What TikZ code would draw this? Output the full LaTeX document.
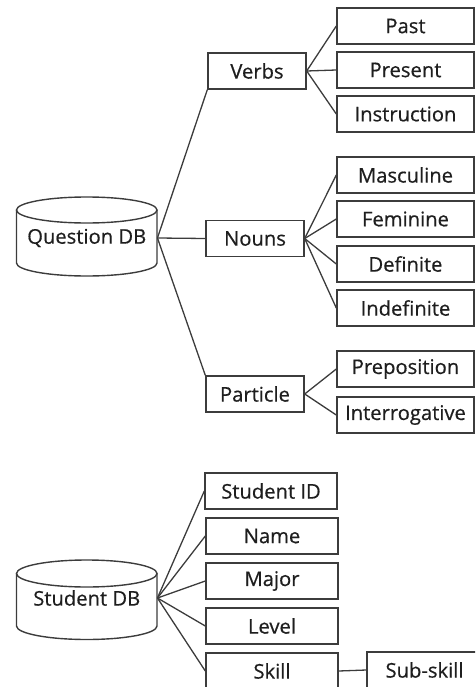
\documentclass[tikz,border=0pt]{standalone}
\usepackage{fontspec}
\setmainfont[FakeBold=0.5]{Open Sans}
\definecolor{edge}{HTML}{3C3C3C}
\definecolor{txt}{HTML}{1E1E1E}
\begin{document}
\begin{tikzpicture}[x=1pt,y=-1pt,
  every node/.style={font=\fontsize{20.2}{22}\selectfont, text=txt},
  box/.style={draw=edge, line width=1.4pt, minimum height=36pt, inner sep=0pt, fill=white},
  leaf/.style={box, minimum width=137pt},
  mid/.style={box, minimum width=98pt},
  attr/.style={box, minimum width=132pt},
  link/.style={draw=edge, line width=1.3pt},
  store/.style={draw=edge, line width=1.4pt}]
\clip (0,0) rectangle (475,687);

% ---------- question database ----------
\draw[store] (16.5,210) -- (16.5,263) arc[start angle=180, end angle=0, x radius=70.25, y radius=13] -- (157,210);
\draw[store] (86.75,210) ellipse [x radius=70.25, y radius=13];
\node[minimum width=141pt, minimum height=20pt, inner sep=0pt] (qdb) at (86.75,238) {\raisebox{-4pt}{Question DB}};

\node[mid] (verbs)    at (257,71)    {Verbs};
\node[mid] (nouns)    at (255,238.5) {Nouns};
\node[mid] (particle) at (255,394)   {Particle};

\node[leaf] (past)    at (405.5,26)  {Past};
\node[leaf] (present) at (405.5,70)  {Present};
\node[leaf] (instr)   at (405.5,114) {Instruction};
\node[leaf] (masc)    at (405.5,175) {Masculine};
\node[leaf] (fem)     at (405.5,219) {Feminine};
\node[leaf] (defin)   at (405.5,264) {Definite};
\node[leaf] (indef)   at (405.5,308) {Indefinite};
\node[leaf] (prep)    at (405.5,369) {Preposition};
\node[leaf] (interr)  at (405.5,415) {Interrogative};

\draw[link] (qdb.east) -- (verbs.south west);
\draw[link] (qdb.east) -- (nouns.west);
\draw[link] (qdb.east) -- (particle.north west);

\foreach \c in {past,present,instr} \draw[link] (verbs.east) -- (\c.west);
\foreach \c in {masc,fem,defin,indef} \draw[link] (nouns.east) -- (\c.west);
\foreach \c in {prep,interr} \draw[link] (particle.east) -- (\c.west);

% ---------- student database ----------
\draw[store] (16.5,573.5) -- (16.5,626) arc[start angle=180, end angle=0, x radius=70.25, y radius=13.5] -- (157,573.5);
\draw[store] (86.75,573.5) ellipse [x radius=70.25, y radius=13.5];
\node[minimum width=141pt, minimum height=20pt, inner sep=0pt] (sdb) at (86.75,598) {\raisebox{-8pt}{Student DB}};

\node[attr] (sid)   at (271,491) {Student ID};
\node[attr] (name)  at (272,536) {Name};
\node[attr] (major) at (272,581) {Major};
\node[attr] (level) at (272,626) {Level};
\node[attr] (skill) at (272,671) {Skill};
\node[box, minimum width=115pt] (sub) at (424.5,670) {Sub-skill};

\foreach \c in {sid,name,major,level,skill} \draw[link] (sdb.east) -- (\c.west);
\draw[link] (skill.east) -- (sub.west);
\end{tikzpicture}
\end{document}
